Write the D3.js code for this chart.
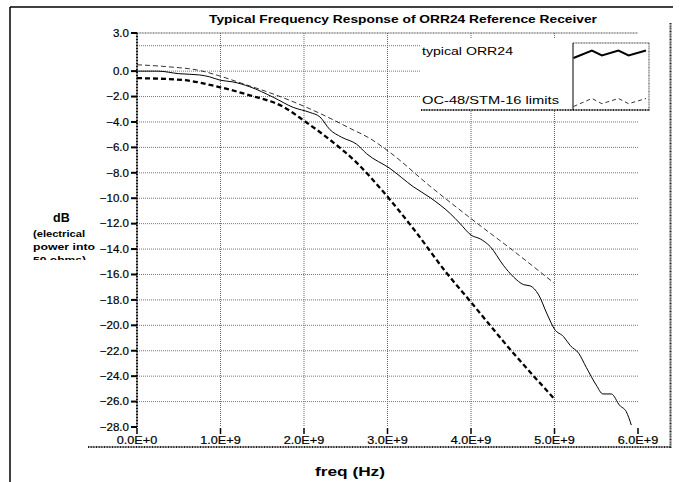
<!DOCTYPE html>
<html>
<head>
<meta charset="utf-8">
<script src="https://cdn.jsdelivr.net/npm/d3@7"></script>
<style>
  body { margin: 0; background: #fff; }
  text { font-family: "Liberation Sans", Arial, Helvetica, sans-serif; }
</style>
</head>
<body>
<div id="container"></div>
<script>
const width = 685;
const height = 482;

// freq in GHz, response in dB
const typicalFreq = [0, 0.25, 0.5, 0.75, 0.87, 1.0, 1.15, 1.35, 1.63, 1.87, 2.07, 2.19, 2.31, 2.45, 2.63, 2.75, 3.03, 3.31, 3.51, 3.75, 3.87, 4.0, 4.11, 4.23, 4.39, 4.51, 4.63, 4.71, 4.81, 4.91, 5.0, 5.11, 5.19, 5.29, 5.38, 5.5, 5.58, 5.68, 5.78, 5.86, 5.92];
const typicalDb = [0, 0, -0.2, -0.3, -0.45, -0.72, -0.85, -1.23, -2.05, -2.85, -3.25, -3.6, -4.6, -5.2, -5.75, -6.5, -7.66, -9.1, -9.95, -11.2, -12.0, -12.9, -13.2, -13.8, -15.3, -16.2, -16.8, -16.9, -17.6, -19.1, -20.3, -20.9, -21.6, -22.2, -23.3, -24.7, -25.4, -25.4, -26.3, -26.8, -27.85];

const upperFreq = [0, 0.36, 0.75, 1.0, 1.25, 1.59, 1.83, 2.03, 2.31, 2.55, 2.79, 3.03, 3.5, 4.0, 4.5, 5.0];
const upperDb = [0.5, 0.35, 0.05, -0.4, -0.95, -1.7, -2.3, -2.85, -3.7, -4.5, -5.3, -6.4, -9.0, -11.6, -14.1, -16.7];

const lowerFreq = [0, 0.55, 0.95, 1.35, 1.75, 2.0, 2.31, 2.63, 2.95, 3.31, 3.71, 3.99, 4.47, 5.0];
const lowerDb = [-0.55, -0.7, -1.2, -1.9, -2.8, -3.9, -5.4, -7.2, -9.5, -12.4, -15.9, -18.1, -21.9, -25.8];

const xTicks = [0, 1, 2, 3, 4, 5, 6];
const xTickLabels = ["0.0E+0", "1.0E+9", "2.0E+9", "3.0E+9", "4.0E+9", "5.0E+9", "6.0E+9"];
const yTicks = [3, 0, -2, -4, -6, -8, -10, -12, -14, -16, -18, -20, -22, -24, -26, -28];
const yGrid = [2, 0, -2, -4, -6, -8, -10, -12, -14, -16, -18, -20, -22, -24, -26];

const seriesNames = ["typical ORR24", "OC-48/STM-16 limits"];

const svg = d3.select("#container").append("svg")
  .attr("width", width)
  .attr("height", height);

const x = d3.scaleLinear().domain([0, 6]).range([137, 638]);
const y = d3.scaleLinear().domain([-28, 3]).range([427, 33]);

// stretch text horizontally like the scanned original
function stretch(sel, k) {
  sel.each(function () {
    const w = this.getComputedTextLength();
    d3.select(this).attr("textLength", w * k).attr("lengthAdjust", "spacingAndGlyphs");
  });
}

// outer frame
svg.append("line").attr("x1", 10).attr("x2", 673).attr("y1", 7).attr("y2", 7)
  .attr("stroke", "#000").attr("stroke-width", 1.5);
svg.append("line").attr("x1", 10).attr("x2", 10).attr("y1", 7).attr("y2", 482)
  .attr("stroke", "#000").attr("stroke-width", 1.5);
svg.append("line").attr("x1", 670.5).attr("x2", 670.5).attr("y1", 23).attr("y2", 448)
  .attr("stroke", "#222").attr("stroke-width", 2).attr("stroke-dasharray", "1,0.6");
svg.append("line").attr("x1", 88).attr("x2", 671).attr("y1", 447).attr("y2", 447)
  .attr("stroke", "#222").attr("stroke-width", 2).attr("stroke-dasharray", "1,0.6");

// title
svg.append("text")
  .attr("x", 209).attr("y", 23)
  .attr("font-size", 11.5).attr("font-weight", "bold")
  .attr("textLength", 388).attr("lengthAdjust", "spacingAndGlyphs")
  .text("Typical Frequency Response of ORR24 Reference Receiver");

// grid
svg.append("g").selectAll("line").data(yGrid).join("line")
  .attr("x1", x(0)).attr("x2", x(6))
  .attr("y1", d => y(d)).attr("y2", d => y(d))
  .attr("stroke", "#777").attr("stroke-width", 1).attr("stroke-dasharray", "1,1");
svg.append("g").selectAll("line").data(xTicks.slice(1, -1)).join("line")
  .attr("x1", d => x(d)).attr("x2", d => x(d))
  .attr("y1", y(3)).attr("y2", y(-28))
  .attr("stroke", "#666").attr("stroke-width", 1).attr("stroke-dasharray", "1,1");
// top border of plot
svg.append("line").attr("x1", x(0)).attr("x2", x(6)).attr("y1", y(3)).attr("y2", y(3))
  .attr("stroke", "#444").attr("stroke-width", 1.2).attr("stroke-dasharray", "1,0.6");

// y axis
svg.append("line").attr("x1", x(0)).attr("x2", x(0)).attr("y1", y(3)).attr("y2", y(-28))
  .attr("stroke", "#111").attr("stroke-width", 2).attr("stroke-dasharray", "1,0.5");
const yAx = svg.append("g").selectAll("g").data(yTicks).join("g")
  .attr("transform", d => `translate(0,${y(d)})`);
yAx.append("line").attr("x1", x(0) - 6).attr("x2", x(0)).attr("stroke", "#000").attr("stroke-width", 2);
yAx.append("text")
  .attr("x", x(0) - 8).attr("y", 3.8)
  .attr("text-anchor", "end")
  .attr("font-size", 11)
  .attr("stroke", "#000").attr("stroke-width", 0.2)
  .text(d => d3.format(".1f")(d))
  .call(stretch, 1.05);

// x axis
const xAx = svg.append("g").selectAll("g").data(xTicks).join("g")
  .attr("transform", d => `translate(${x(d)},0)`);
xAx.append("line").attr("y1", 428).attr("y2", 434).attr("stroke", "#000").attr("stroke-width", 1.5);
xAx.append("text")
  .attr("y", 444)
  .attr("text-anchor", "middle")
  .attr("font-size", 11)
  .attr("stroke", "#000").attr("stroke-width", 0.2)
  .text((d, i) => xTickLabels[i])
  .call(stretch, 1.15);

// axis titles
svg.append("text")
  .attr("x", 315).attr("y", 476)
  .attr("font-size", 12).attr("font-weight", "bold")
  .attr("textLength", 70).attr("lengthAdjust", "spacingAndGlyphs")
  .text("freq (Hz)");
svg.append("text")
  .attr("x", 53).attr("y", 222)
  .attr("font-size", 12.5).attr("font-weight", "bold")
  .text("dB");
svg.append("clipPath").attr("id", "lblclip")
  .append("rect").attr("x", 0).attr("y", 0).attr("width", 130).attr("height", 260);
const sub = svg.append("g").attr("clip-path", "url(#lblclip)");
sub.append("text").attr("x", 33).attr("y", 237).attr("font-size", 8.5).attr("font-weight", "bold")
  .attr("textLength", 52).attr("lengthAdjust", "spacingAndGlyphs").text("(electrical");
sub.append("text").attr("x", 33).attr("y", 250).attr("font-size", 8.5).attr("font-weight", "bold")
  .attr("textLength", 62).attr("lengthAdjust", "spacingAndGlyphs").text("power into");
sub.append("text").attr("x", 33).attr("y", 263).attr("font-size", 8.5).attr("font-weight", "bold")
  .attr("textLength", 53).attr("lengthAdjust", "spacingAndGlyphs").text("50 ohms)");

// series
const line = d3.line().x(d => x(d[0])).y(d => y(d[1])).curve(d3.curveMonotoneX);
svg.append("path")
  .datum(d3.zip(lowerFreq, lowerDb))
  .attr("d", line).attr("fill", "none")
  .attr("stroke", "#000").attr("stroke-width", 2.3).attr("stroke-dasharray", "5,3");
svg.append("path")
  .datum(d3.zip(upperFreq, upperDb))
  .attr("d", line).attr("fill", "none")
  .attr("stroke", "#000").attr("stroke-width", 0.8).attr("stroke-dasharray", "5,3");
svg.append("path")
  .datum(d3.zip(typicalFreq, typicalDb))
  .attr("d", line).attr("fill", "none")
  .attr("stroke", "#000").attr("stroke-width", 1);

// legend
const legend = svg.append("g");
legend.append("rect").attr("x", 421).attr("y", 38).attr("width", 229).attr("height", 72).attr("fill", "#fff");
legend.append("line").attr("x1", 421).attr("x2", 650).attr("y1", 110).attr("y2", 110)
  .attr("stroke", "#222").attr("stroke-width", 2).attr("stroke-dasharray", "1,0.6");
legend.append("text").attr("x", 422).attr("y", 55).attr("font-size", 10.5)
  .attr("textLength", 91).attr("lengthAdjust", "spacingAndGlyphs").text(seriesNames[0]);
legend.append("text").attr("x", 422).attr("y", 104).attr("font-size", 10.5)
  .attr("textLength", 137).attr("lengthAdjust", "spacingAndGlyphs").text(seriesNames[1]);
// swatch box
const sw = legend.append("g");
sw.append("line").attr("x1", 573).attr("x2", 649).attr("y1", 43).attr("y2", 43)
  .attr("stroke", "#333").attr("stroke-width", 1.2).attr("stroke-dasharray", "1,0.6");
sw.append("line").attr("x1", 649).attr("x2", 649).attr("y1", 43).attr("y2", 110)
  .attr("stroke", "#555").attr("stroke-width", 1.2).attr("stroke-dasharray", "1,0.6");
sw.append("line").attr("x1", 573).attr("x2", 573).attr("y1", 43).attr("y2", 110)
  .attr("stroke", "#000").attr("stroke-width", 1);
const zig = [0, 1, 0.35, 1, 0.35, 1];
const zx = d3.scaleLinear().domain([0, 5]).range([573.5, 646]);
const zigX = [0, 1.27, 1.96, 3.1, 3.8, 5];
sw.append("path")
  .attr("d", d3.line()(zig.map((v, i) => [zx(zigX[i]), 58 - v * 7.5])))
  .attr("fill", "none").attr("stroke", "#000").attr("stroke-width", 2);
sw.append("path")
  .attr("d", d3.line()(zig.map((v, i) => [zx(zigX[i]), 106.5 - v * 8])))
  .attr("fill", "none").attr("stroke", "#000").attr("stroke-width", 0.8).attr("stroke-dasharray", "4,3");
</script>
</body>
</html>
